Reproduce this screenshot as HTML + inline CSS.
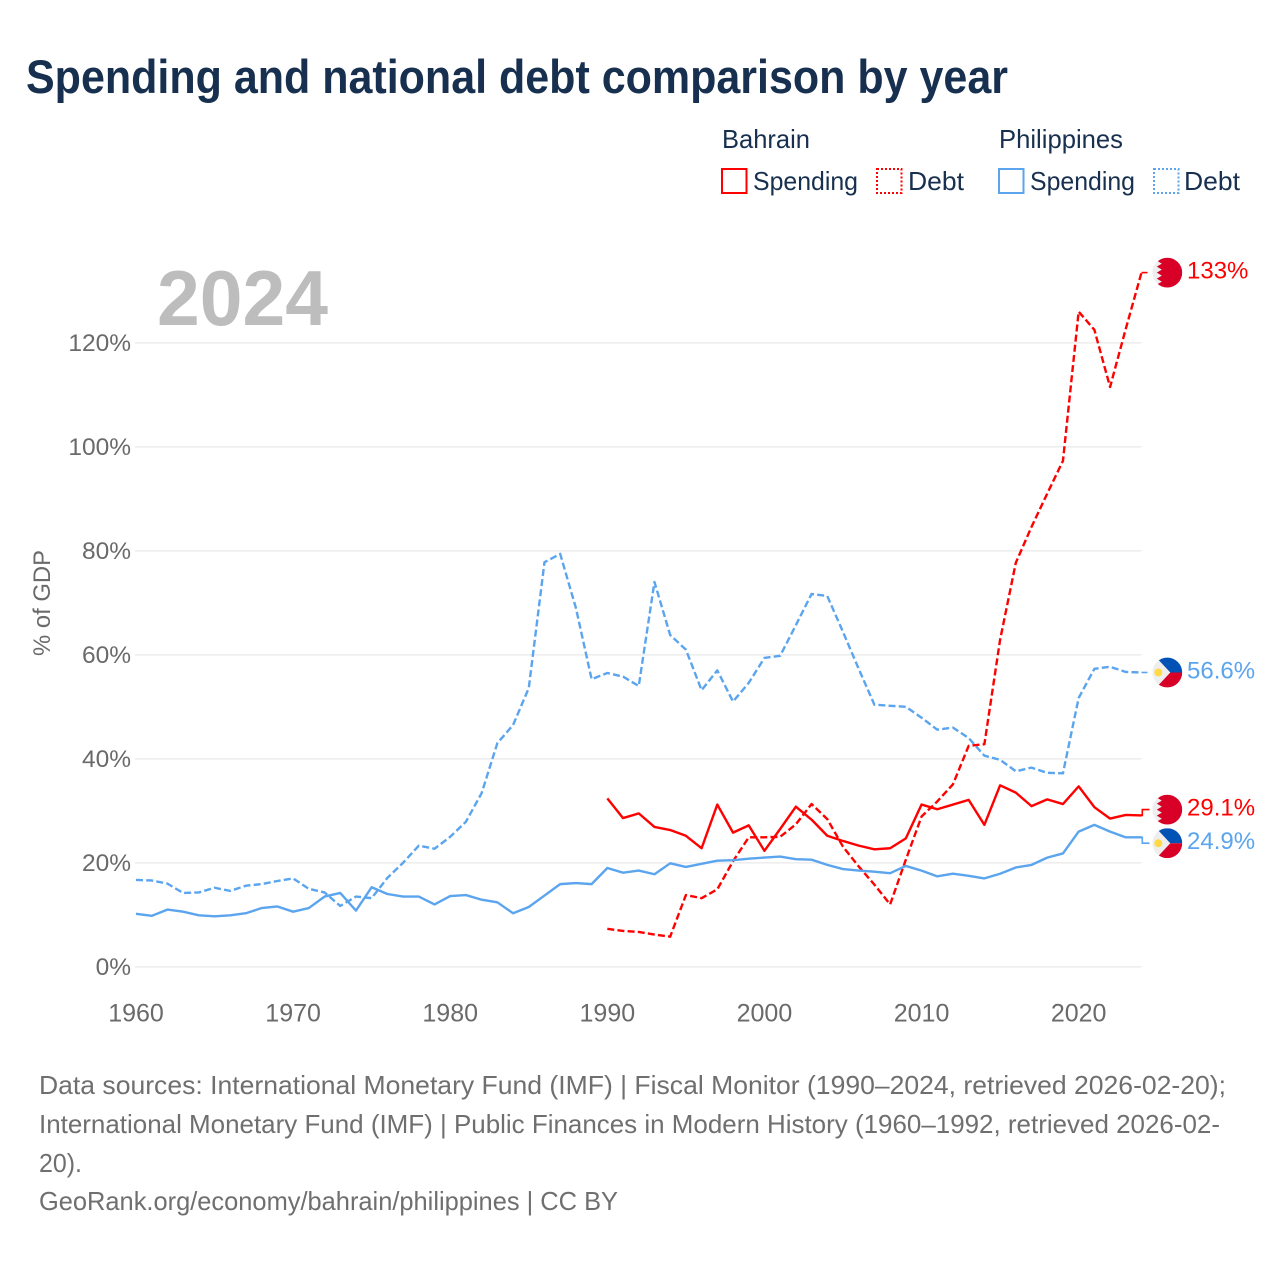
<!DOCTYPE html>
<html lang="en">
<head>
<meta charset="utf-8">
<title>Spending and national debt comparison by year</title>
<style>
html,body{margin:0;padding:0;background:#fff;width:1280px;height:1280px;overflow:hidden}
svg{display:block}
text{font-family:"Liberation Sans",sans-serif}
</style>
</head>
<body>
<svg id="chart" width="1280" height="1280" viewBox="0 0 1280 1280" xmlns="http://www.w3.org/2000/svg">
  <defs>
    <clipPath id="flag-clip"><circle cx="0" cy="0" r="14.9"></circle></clipPath>
  </defs>
  <text x="26" y="93" font-size="47" font-weight="700" fill="#18304f" textLength="982" lengthAdjust="spacingAndGlyphs">Spending and national debt comparison by year</text>

  <g font-size="26" fill="#18304f">
    <text x="722" y="148" fill="#18304f" textLength="88" lengthAdjust="spacingAndGlyphs">Bahrain</text>
    <text x="999" y="148" fill="#18304f" textLength="124" lengthAdjust="spacingAndGlyphs">Philippines</text>
    <rect x="722" y="169" width="24.5" height="24" fill="none" stroke="#ff0000" stroke-width="2"></rect>
    <text x="753" y="190" fill="#18304f" textLength="105" lengthAdjust="spacingAndGlyphs">Spending</text>
    <rect x="877" y="169" width="24.5" height="24" fill="none" stroke="#ff0000" stroke-width="2" stroke-dasharray="2,2"></rect>
    <text x="908" y="190" fill="#18304f" textLength="56" lengthAdjust="spacingAndGlyphs">Debt</text>
    <rect x="999" y="169" width="24.5" height="24" fill="none" stroke="#5ba4ee" stroke-width="2"></rect>
    <text x="1030" y="190" fill="#18304f" textLength="105" lengthAdjust="spacingAndGlyphs">Spending</text>
    <rect x="1154" y="169" width="24.5" height="24" fill="none" stroke="#5ba4ee" stroke-width="2" stroke-dasharray="2,2"></rect>
    <text x="1184" y="190" fill="#18304f" textLength="56" lengthAdjust="spacingAndGlyphs">Debt</text>
  </g>

  <g id="grid"></g>
  <g id="y-axis"></g>
  <g id="x-axis"></g>
  <text transform="translate(50,656) rotate(-90)" font-size="24" fill="#6a6a6a" textLength="106" lengthAdjust="spacingAndGlyphs">% of GDP</text>
  <text x="157" y="325" font-size="78" font-weight="700" fill="#bdbdbd" textLength="171" lengthAdjust="spacingAndGlyphs">2024</text>

  <g id="series"></g>
  <g id="end-labels"></g>

  <g font-size="26" fill="#6f6f6f">
    <text x="39" y="1094" textLength="1187" lengthAdjust="spacingAndGlyphs">Data sources: International Monetary Fund (IMF) | Fiscal Monitor (1990–2024, retrieved 2026-02-20);</text>
    <text x="39" y="1133" textLength="1181" lengthAdjust="spacingAndGlyphs">International Monetary Fund (IMF) | Public Finances in Modern History (1960–1992, retrieved 2026-02-</text>
    <text x="39" y="1172" textLength="43" lengthAdjust="spacingAndGlyphs">20).</text>
    <text x="39" y="1210" textLength="579" lengthAdjust="spacingAndGlyphs">GeoRank.org/economy/bahrain/philippines | CC BY</text>
  </g>
</svg>
<script>
const years = [1960,1961,1962,1963,1964,1965,1966,1967,1968,1969,1970,1971,1972,1973,1974,1975,1976,1977,1978,1979,1980,1981,1982,1983,1984,1985,1986,1987,1988,1989,1990,1991,1992,1993,1994,1995,1996,1997,1998,1999,2000,2001,2002,2003,2004,2005,2006,2007,2008,2009,2010,2011,2012,2013,2014,2015,2016,2017,2018,2019,2020,2021,2022,2023,2024];
const philippinesDebt = [16.7,16.6,16,14.2,14.3,15.2,14.6,15.6,15.9,16.5,17,15,14.3,11.7,13.5,13.2,17.1,20,23.3,22.7,25,27.9,33.4,43,46.5,53.6,77.8,79.4,69,55.3,56.5,55.8,54,74,63.8,61,53.2,57,51,54.6,59.4,59.8,65.7,71.7,71.3,64.4,57.3,50.4,50.2,50,47.9,45.6,46,44,40.6,39.8,37.6,38.3,37.3,37.2,51.7,57.3,57.7,56.7,56.6];
const philippinesSpending = [10.2,9.8,11,10.6,9.9,9.7,9.9,10.3,11.3,11.6,10.6,11.3,13.5,14.2,10.8,15.3,14,13.5,13.5,12,13.6,13.8,12.9,12.4,10.3,11.5,13.7,15.9,16.1,15.9,19,18.1,18.5,17.8,19.9,19.2,19.8,20.4,20.5,20.8,21,21.2,20.7,20.6,19.6,18.8,18.5,18.3,18,19.4,18.5,17.4,17.9,17.5,17,17.9,19.1,19.6,21,21.8,26,27.3,26,24.9,24.9];
const bahrainDebt = [null,null,null,null,null,null,null,null,null,null,null,null,null,null,null,null,null,null,null,null,null,null,null,null,null,null,null,null,null,null,7.3,6.9,6.7,6.2,5.8,13.8,13.2,14.9,20.3,24.9,24.9,25,27.4,31.3,28.4,23.1,19.3,15.8,12,20.6,28.9,31.8,35.1,42.5,42.8,62.9,77.7,84.6,91,97.3,126,122.5,111.5,122.7,133.5];
const bahrainSpending = [null,null,null,null,null,null,null,null,null,null,null,null,null,null,null,null,null,null,null,null,null,null,null,null,null,null,null,null,null,null,32.4,28.6,29.5,26.9,26.3,25.2,22.8,31.2,25.8,27.2,22.3,26.5,30.8,28.3,25.2,24.2,23.3,22.6,22.8,24.7,31.2,30.3,31.2,32.1,27.3,34.9,33.5,30.9,32.2,31.3,34.7,30.7,28.5,29.2,29.1];
const yTickValues = [0,20,40,60,80,100,120];
const yTickLabels = ["0%","20%","40%","60%","80%","100%","120%"];
const xTickValues = [1960,1970,1980,1990,2000,2010,2020];
const xTickLabels = ["1960","1970","1980","1990","2000","2010","2020"];
const endLabelText = {bahrainDebt:"133%",philippinesDebt:"56.6%",bahrainSpending:"29.1%",philippinesSpending:"24.9%"};

const RED = "#ff0000";
const BLUE = "#5ba4ee";
const LINE_W = 2.4;
const DASH = "7,3.2";
const NS = "http://www.w3.org/2000/svg";
function xScale(year){ return 136 + (year - 1960) * (1141.5 - 136) / 64; }
function yScale(v){ return 966.8 - v * 5.2; }
function make(tag, attrs, parent, text){
  const el = document.createElementNS(NS, tag);
  for (const k in attrs) el.setAttribute(k, attrs[k]);
  if (text !== undefined) el.textContent = text;
  parent.appendChild(el);
  return el;
}

const gridG = document.getElementById("grid");
const yAxisG = document.getElementById("y-axis");
const xAxisG = document.getElementById("x-axis");
const seriesG = document.getElementById("series");
const labelsG = document.getElementById("end-labels");

yTickValues.forEach(function(v, i){
  const line = make("line", {x1:135, x2:1141.5, y1:yScale(v), y2:yScale(v), stroke:"#eeeeee", "stroke-width":1.6}, gridG);
  
  
  const t = make("text", {x:131, y:yScale(v)+8, "text-anchor":"end", "font-size":24.5, fill:"#6a6a6a"}, yAxisG, yTickLabels[i]);
  
  
});
xTickValues.forEach(function(y, i){
  const t = make("text", {x:xScale(y), y:1021.5, "text-anchor":"middle", "font-size":25, fill:"#6a6a6a"}, xAxisG, xTickLabels[i]);
  
  
});

function seriesPath(values){
  let d = "";
  values.forEach(function(v, i){
    if (v === null) return;
    d += (d ? "L" : "M") + xScale(years[i]).toFixed(2) + " " + yScale(v).toFixed(2);
  });
  return d;
}
const dashP = make("path", {d:seriesPath(philippinesDebt), fill:"none", stroke:BLUE, "stroke-width":LINE_W, "stroke-dasharray":DASH, "stroke-linejoin":"round"}, seriesG);


const dashB = make("path", {d:seriesPath(bahrainDebt), fill:"none", stroke:RED, "stroke-width":LINE_W, "stroke-dasharray":DASH, "stroke-linejoin":"round"}, seriesG);


const solidP = make("path", {d:seriesPath(philippinesSpending), fill:"none", stroke:BLUE, "stroke-width":LINE_W, "stroke-linejoin":"round"}, seriesG);


const solidB = make("path", {d:seriesPath(bahrainSpending), fill:"none", stroke:RED, "stroke-width":LINE_W, "stroke-linejoin":"round"}, seriesG);



/* End-of-line flag markers: positions follow the last value, spread apart on collision */
function last(a){ return a[a.length - 1]; }
const ends = [
  {key:"bahrainDebt", value:last(bahrainDebt), color:RED, flag:"bahrain", dash:"6,3"},
  {key:"philippinesDebt", value:last(philippinesDebt), color:BLUE, flag:"philippines", dash:"6,3"},
  {key:"bahrainSpending", value:last(bahrainSpending), color:RED, flag:"bahrain", dash:"none"},
  {key:"philippinesSpending", value:last(philippinesSpending), color:BLUE, flag:"philippines", dash:"none"}
];
ends.forEach(function(e){ e.py = yScale(e.value); e.fy = e.py; });
ends.sort(function(a, b){ return a.py - b.py; });
const MIN_GAP = 33.6;
for (let pass = 0; pass < 4; pass++) {
  for (let i = 1; i < ends.length; i++) {
    const gap = ends[i].fy - ends[i-1].fy;
    if (gap < MIN_GAP) {
      const push = (MIN_GAP - gap) / 2;
      ends[i-1].fy -= push;
      ends[i].fy += push;
    }
  }
}

function drawBahrain(g){
  const bg = make("rect", {x:-15, y:-15, width:30, height:30, fill:"#eeeeee"}, g);
  
  
  const red = make("path", {fill:"#d80027", d:"M15 -15L-5.5 -15L-10.5 -12L-5.5 -9L-10.5 -6L-5.5 -3L-10.5 0L-5.5 3L-10.5 6L-5.5 9L-10.5 12L-5.5 15L15 15Z"}, g);
  
  
}
function drawPhilippines(g){
  const bg = make("rect", {x:-15, y:-15, width:30, height:30, fill:"#eeeeee"}, g);
  
  
  const blue = make("path", {fill:"#0052b4", d:"M-11 -15L15 -15L15 0L3 0Z"}, g);
  
  
  const red = make("path", {fill:"#d80027", d:"M-11 15L15 15L15 0L3 0Z"}, g);
  
  
  const sun = make("circle", {cx:-9, cy:0, r:4, fill:"#ffda44"}, g);
  
  
}

ends.forEach(function(e){
  const lastX = xScale(2024);
  const attrs = {d:"M" + lastX + " " + e.py + "H" + (lastX + 0.8) + "V" + e.fy + "H1149.5", fill:"none", stroke:e.color, "stroke-width":1.6};
  if (e.dash !== "none") attrs["stroke-dasharray"] = e.dash;
  const c = make("path", attrs, labelsG);
  
  

  const g = make("g", {transform:"translate(1167.3," + e.fy + ")", "clip-path":"url(#flag-clip)"}, labelsG);
  
  
  if (e.flag === "bahrain") drawBahrain(g); else drawPhilippines(g);

  const t = make("text", {x:1187, y:e.fy + 5.8, "font-size":24, fill:e.color}, labelsG, endLabelText[e.key]);
  
  
});
</script>
</body>
</html>
